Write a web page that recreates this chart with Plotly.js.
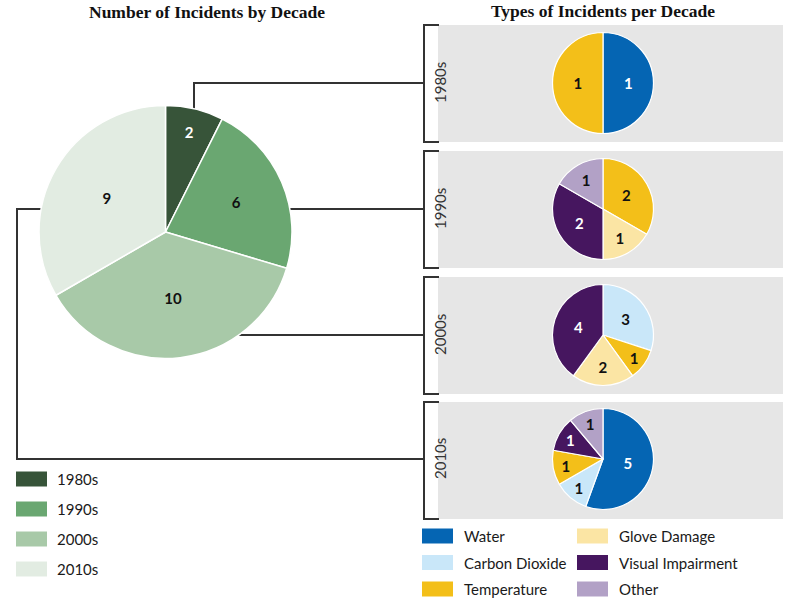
<!DOCTYPE html>
<html>
<head>
<meta charset="utf-8">
<script src="https://cdn.plot.ly/plotly-3.0.1.min.js"></script>
<style>html,body{margin:0;padding:0;background:#fff;}#chart{width:794px;height:603px;}</style>
</head>
<body>
<div id="chart"></div>
<script>
// ---- data ----
const decades = ['1980s', '1990s', '2000s', '2010s'];
const decadeTotals = [2, 6, 10, 9];
const decadeColors = ['#375439', '#6aa771', '#a8c9a8', '#e2ece2'];
const decadeTextColors = ['#ffffff', '#111111', '#111111', '#111111'];

const types = ['Water', 'Carbon Dioxide', 'Temperature', 'Glove Damage', 'Visual Impairment', 'Other'];
const typeColors = ['#0565b3', '#c9e7f9', '#f3bf19', '#fbe5a4', '#46165f', '#b2a1c6'];
const typeTextColors = ['#ffffff', '#111111', '#111111', '#111111', '#ffffff', '#111111'];

const counts1980s = [1, 0, 1, 0, 0, 0];
const counts1990s = [0, 0, 2, 1, 2, 1];
const counts2000s = [0, 3, 1, 2, 4, 0];
const counts2010s = [5, 1, 1, 0, 1, 1];
const countsByDecade = [counts1980s, counts1990s, counts2000s, counts2010s];

const titleLeft = 'Number of Incidents by Decade';
const titleRight = 'Types of Incidents per Decade';

// ---- layout constants ----
const W = 794, H = 603;
const big = {cx: 165.5, cy: 232, r: 126.5};
const small = {cx: 603, cys: [83, 209, 335, 459], r: 50.5};
const panel = {x0: 438, x1: 783, tops: [25, 151, 277, 402], h: 117, bx: 424};
const labelFont = 'Lato, "Open Sans", sans-serif';
const titleFont = '"Liberation Serif", "DejaVu Serif", serif';

function domainFor(cx, cy, r) {
  return {x: [(cx - r) / W, (cx + r) / W], y: [1 - (cy + r) / H, 1 - (cy - r) / H]};
}

const traces = [];
traces.push({
  type: 'pie', labels: decades, values: decadeTotals, sort: false, direction: 'clockwise',
  rotation: 0, domain: domainFor(big.cx, big.cy, big.r),
  marker: {colors: decadeColors, line: {color: '#ffffff', width: 1.5}},
  textinfo: 'value', textposition: 'inside', insidetextorientation: 'horizontal',
  textfont: {family: labelFont, size: 15, weight: 'bold', color: decadeTextColors},
  hoverinfo: 'label+value', showlegend: false
});

countsByDecade.forEach((counts, d) => {
  const lab = [], val = [], col = [], tcol = [];
  counts.forEach((v, i) => {
    if (v > 0) { lab.push(types[i]); val.push(v); col.push(typeColors[i]); tcol.push(typeTextColors[i]); }
  });
  traces.push({
    type: 'pie', labels: lab, values: val, sort: false, direction: 'clockwise', rotation: 0,
    domain: domainFor(small.cx, small.cys[d], small.r), name: decades[d],
    marker: {colors: col, line: {color: '#ffffff', width: 1.2}},
    textinfo: 'value', textposition: 'inside', insidetextorientation: 'horizontal',
    textfont: {family: labelFont, size: 15, weight: 'bold', color: tcol},
    hoverinfo: 'label+value', showlegend: false
  });
});

const shapes = [];
const annotations = [];
const lineStyle = {color: '#333333', width: 2};

// grey panels + brackets + rotated labels
decades.forEach((dec, d) => {
  const t = panel.tops[d], b = t + panel.h;
  shapes.push({type: 'rect', xref: 'x', yref: 'y', x0: panel.x0, x1: panel.x1, y0: t, y1: b,
    fillcolor: '#e6e6e6', line: {width: 0}, layer: 'below'});
  shapes.push({type: 'path', xref: 'x', yref: 'y',
    path: `M ${panel.bx + 15} ${t} L ${panel.bx} ${t} L ${panel.bx} ${b} L ${panel.bx + 15} ${b}`,
    line: lineStyle, layer: 'below'});
  annotations.push({xref: 'x', yref: 'y', x: 440, y: small.cys[d], text: dec, showarrow: false,
    textangle: -90, font: {family: labelFont, size: 15, color: '#333333'}});
});

// connectors from main pie to panels
const connectors = [
  `M 194 110 V ${small.cys[0]} H ${panel.bx}`,
  `M 285 ${small.cys[1]} H ${panel.bx}`,
  `M 238 ${small.cys[2]} H ${panel.bx}`,
  `M 45 ${small.cys[1]} H 17 V ${small.cys[3]} H ${panel.bx}`
];
connectors.forEach(p => shapes.push({type: 'path', xref: 'x', yref: 'y', path: p, line: lineStyle, layer: 'below'}));

// titles
annotations.push({xref: 'x', yref: 'y', x: 207, y: 12, text: '<b>' + titleLeft + '</b>', showarrow: false,
  font: {family: titleFont, size: 17.5, color: '#111111'}});
annotations.push({xref: 'x', yref: 'y', x: 603, y: 11, text: '<b>' + titleRight + '</b>', showarrow: false,
  font: {family: titleFont, size: 17.5, color: '#111111'}});

// left legend
const legL = {x: 16, y0: 479, dy: 30, sw: 31, sh: 15, tx: 55};
decades.forEach((dec, i) => {
  const y = legL.y0 + i * legL.dy;
  shapes.push({type: 'rect', xref: 'x', yref: 'y', x0: legL.x, x1: legL.x + legL.sw, y0: y - legL.sh / 2, y1: y + legL.sh / 2,
    fillcolor: decadeColors[i], line: {width: 0}});
  annotations.push({xref: 'x', yref: 'y', x: legL.tx, y: y, text: dec, showarrow: false, xanchor: 'left',
    font: {family: labelFont, size: 15, color: '#1a1a1a'}});
});

// right legend (two columns, column-major)
const legR = {xs: [422, 577], txs: [462, 617], y0: 536, dy: 26.5, sw: 31, sh: 15};
types.forEach((tp, i) => {
  const c = Math.floor(i / 3), r = i % 3;
  const y = legR.y0 + r * legR.dy;
  shapes.push({type: 'rect', xref: 'x', yref: 'y', x0: legR.xs[c], x1: legR.xs[c] + legR.sw, y0: y - legR.sh / 2, y1: y + legR.sh / 2,
    fillcolor: typeColors[i], line: {width: 0}});
  annotations.push({xref: 'x', yref: 'y', x: legR.txs[c], y: y, text: tp, showarrow: false, xanchor: 'left',
    font: {family: labelFont, size: 15, color: '#1a1a1a'}});
});

const layout = {
  width: W, height: H, margin: {l: 0, r: 0, t: 0, b: 0},
  paper_bgcolor: '#ffffff', plot_bgcolor: 'rgba(0,0,0,0)', showlegend: false,
  xaxis: {range: [0, W], visible: false, fixedrange: true},
  yaxis: {range: [H, 0], visible: false, fixedrange: true},
  shapes: shapes, annotations: annotations
};

Plotly.newPlot('chart', traces, layout, {displayModeBar: false, staticPlot: true});
</script>
</body>
</html>
